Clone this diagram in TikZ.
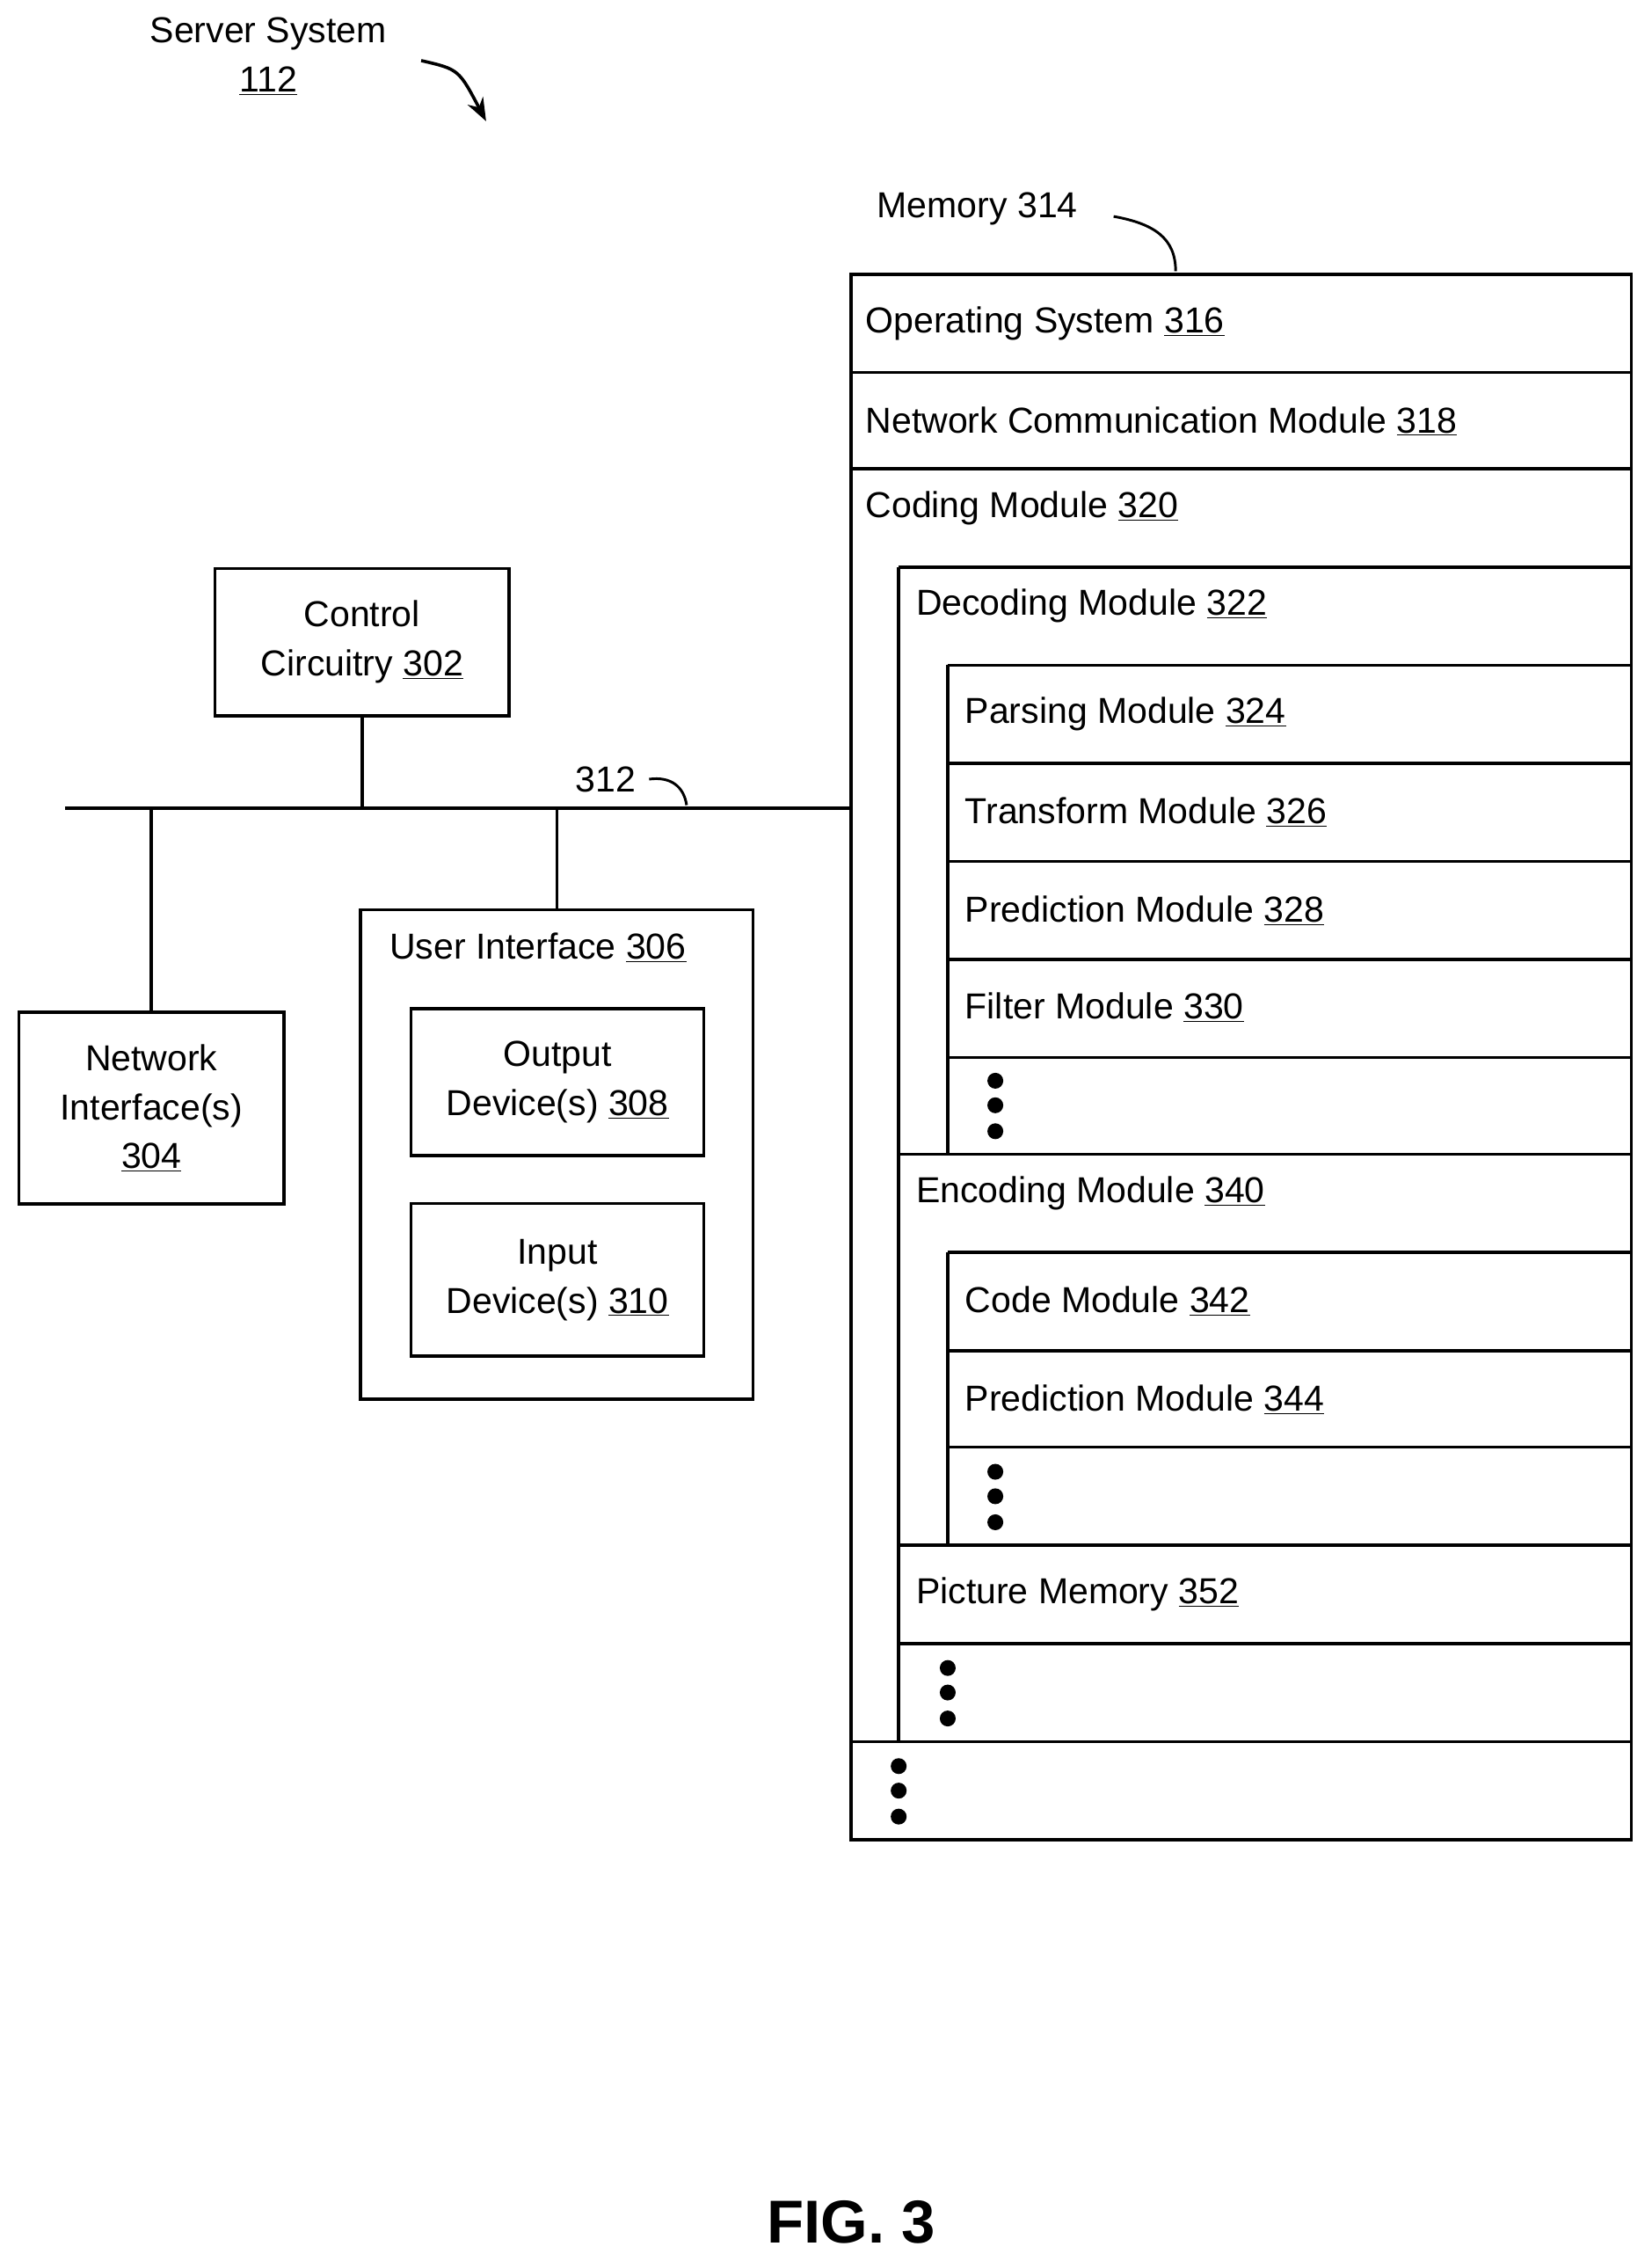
\documentclass[tikz,border=0pt]{standalone}
\usepackage{fontspec}
\setmainfont{Liberation Sans}
\usetikzlibrary{arrows.meta}
\begin{document}
\begin{tikzpicture}[x=1pt,y=-1pt,line width=2.2pt,
  lbl/.style={anchor=west,inner sep=0pt,font=\fontsize{25}{30}\selectfont},
  ctr/.style={align=center,inner sep=0pt,font=\fontsize{25}{34}\selectfont},
  dot/.style={circle,fill=black,inner sep=0pt,minimum size=11pt}]
\useasboundingbox (0,0) rectangle (1145,1567);
% header
\node[ctr] (ss) at (186,39) {Server System\\\underline{112}};
\coordinate (a1) at (292,42); \coordinate (a2) at (337,84);
\draw[-{Stealth[length=16pt,width=12pt]}] (a1) .. controls (318,48) .. (a2);
% memory
\draw (590,190) rectangle (1131,1275);
\foreach \y in {258,325} \draw (590,\y) -- (1131,\y);
\draw (623,393) -- (1131,393);
\draw (623,393) -- (623,1207);
\draw (590,1207) -- (1131,1207);
\draw (657,461) -- (1131,461);
\foreach \y in {529,597,665,733} \draw (657,\y) -- (1131,\y);
\draw (657,461) -- (657,800);
\draw (623,800) -- (1131,800);
\draw (657,868) -- (1131,868);
\foreach \y in {936,1003} \draw (657,\y) -- (1131,\y);
\draw (657,868) -- (657,1071);
\draw (623,1071) -- (1131,1071);
\draw (623,1139) -- (1131,1139);
\node[lbl] (os) at (599,224) {Operating System \underline{316}};
\node[lbl] (ncm) at (599,292) {Network Communication Module \underline{318}};
\node[lbl] (cm) at (599,352) {Coding Module \underline{320}};
\node[lbl] (dm) at (634,420) {Decoding Module \underline{322}};
\node[lbl] (pm) at (668,495) {Parsing Module \underline{324}};
\node[lbl] (tm) at (668,563) {Transform Module \underline{326}};
\node[lbl] (prm) at (668,631) {Prediction Module \underline{328}};
\node[lbl] (fm) at (668,698) {Filter Module \underline{330}};
\node[lbl] (em) at (634,827) {Encoding Module \underline{340}};
\node[lbl] (cdm) at (668,902) {Code Module \underline{342}};
\node[lbl] (pm2) at (668,970) {Prediction Module \underline{344}};
\node[lbl] (pic) at (634,1105) {Picture Memory \underline{352}};
\foreach \x/\y [count=\i] in {690/749,690/1020,657/1156,623/1224}{
  \node[dot] (d\i a) at (\x,\y) {};
  \node[dot] (d\i b) at (\x,\y+17) {};
  \node[dot] (d\i c) at (\x,\y+35) {};}
\node[lbl] (mem) at (607,145) {Memory 314};
\coordinate (m1) at (772,150);
\coordinate (m2) at (815,188);
\draw[line width=1.8pt] (m1) .. controls (800,155) and (815,165) .. (m2);
% left side
\node[draw,ctr,minimum width=204pt,minimum height=102pt] (cc) at (251,445) {Control\\Circuitry \underline{302}};
\node[draw,ctr,minimum width=184pt,minimum height=133pt] (ni) at (105,768) {Network\\Interface(s)\\\underline{304}};
\node[draw,minimum width=272pt,minimum height=339pt,inner sep=0pt] (ui) at (386,800) {};
\node[lbl] (uil) at (269,657) {User Interface \underline{306}};
\node[draw,ctr,minimum width=203pt,minimum height=102pt] (od) at (386.5,750) {Output\\Device(s) \underline{308}};
\node[draw,ctr,minimum width=203pt,minimum height=106pt] (id) at (386.5,887) {Input\\Device(s) \underline{310}};
\coordinate (b0) at (45,560);
\coordinate (b1) at (590,560);
\draw (b0) -- (b1);
\draw (cc.south) -- (cc.south |- b0);
\draw (ni.north) -- (ni.north |- b0);
\draw (ui.north) -- (ui.north |- b0);
\node[lbl] (l312) at (398,540) {312};
\coordinate (s1) at (450,540); \coordinate (s2) at (476,558);
\draw[line width=1.8pt] (s1) .. controls (465,538) and (474,545) .. (s2);
\node[font=\fontsize{42}{50}\selectfont\bfseries] (fig) at (590,1540) {FIG. 3};
\end{tikzpicture}
\end{document}
